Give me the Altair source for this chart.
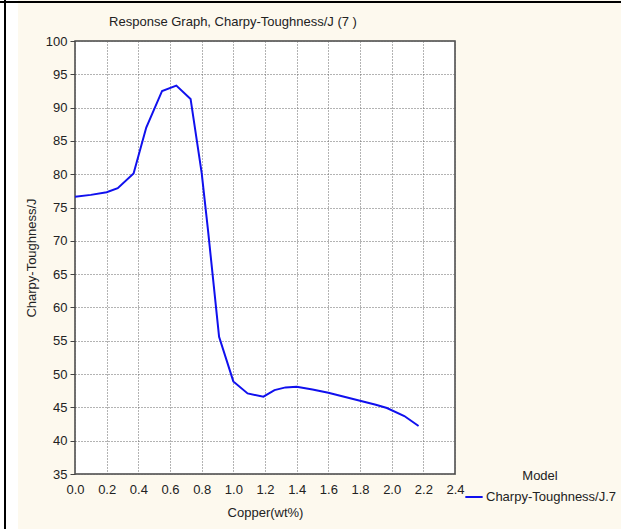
import altair as alt
import pandas as pd

copper = [0.00, 0.10, 0.20, 0.27, 0.37, 0.45, 0.55, 0.64, 0.73, 0.80, 0.84, 0.91, 1.00, 1.09, 1.19, 1.26, 1.33, 1.40, 1.50, 1.60, 1.70, 1.80, 1.90, 1.97, 2.08, 2.17]
toughness = [76.6, 76.9, 77.3, 77.9, 80.1, 87.0, 92.5, 93.3, 91.3, 80.2, 71.6, 55.6, 48.9, 47.1, 46.6, 47.6, 48.0, 48.1, 47.7, 47.2, 46.6, 46.0, 45.4, 44.9, 43.7, 42.2]
series = ["Charpy-Toughness/J.7"] * len(copper)
x_ticks = ["0.0", "0.2", "0.4", "0.6", "0.8", "1.0", "1.2", "1.4", "1.6", "1.8", "2.0", "2.2", "2.4"]
y_ticks = [35, 40, 45, 50, 55, 60, 65, 70, 75, 80, 85, 90, 95, 100]
title_text = ["Response Graph, Charpy-Toughness/J (7 )"]

df = pd.DataFrame({"copper": copper, "toughness": toughness, "series": series})
title_df = pd.DataFrame({"t": title_text})

FONT = "Liberation Sans"

line = alt.Chart(df).mark_line(strokeWidth=2, clip=True).encode(
    x=alt.X("copper:Q", title="Copper(wt%)",
            scale=alt.Scale(domain=[0, 2.4], nice=False),
            axis=alt.Axis(values=[float(v) for v in x_ticks], format=".1f",
                          tickSize=0, labelPadding=9, titlePadding=10,
                          labelFlush=False, labelOverlap=False,
                          labelFontSize=13, titleFontSize=13)),
    y=alt.Y("toughness:Q", title="Charpy-Toughness/J",
            scale=alt.Scale(domain=[35, 100], nice=False, zero=False),
            axis=alt.Axis(values=y_ticks, tickSize=5,
                          labelPadding=3, titlePadding=7,
                          labelFlush=False, labelOverlap=False,
                          labelFontSize=13, titleFontSize=13)),
    color=alt.Color("series:N", title="Model",
                    scale=alt.Scale(range=["#1010ee"]),
                    legend=alt.Legend(orient="none", legendX=389, legendY=429,
                                      symbolType="stroke", symbolStrokeWidth=2,
                                      symbolSize=300, titleAnchor="middle",
                                      titleFontSize=13, labelFontSize=13,
                                      titleFontWeight="normal", labelOffset=2,
                                      titlePadding=4)),
)

# chart title as a text mark (kept as real text)
title = alt.Chart(title_df).mark_text(
    font=FONT, fontSize=13, color="#222", align="center", baseline="middle"
).encode(text="t:N", x=alt.value(158), y=alt.value(-19))

# page frame decoration (white strip, black left and top lines)
frame_strip = alt.Chart(title_df).mark_rect(color="white").encode(
    x=alt.value(-75), x2=alt.value(-57), y=alt.value(-41), y2=alt.value(488))
frame_left = alt.Chart(title_df).mark_rule(color="black", strokeWidth=2).encode(
    x=alt.value(-70), y=alt.value(-41), y2=alt.value(488))
frame_top = alt.Chart(title_df).mark_rule(color="black", strokeWidth=2).encode(
    x=alt.value(-75), x2=alt.value(546), y=alt.value(-39))

chart = alt.layer(frame_strip, frame_left, frame_top, title, line).properties(
    width=380, height=433,
    background="#fdf9ee",
    padding={"left": 75, "top": 41, "right": 166, "bottom": 55},
    autosize=alt.AutoSizeParams(type="none"),
).configure_view(
    fill="white", stroke="#444", strokeWidth=1.5
).configure_axis(
    grid=True, gridColor="#666", gridDash=[1, 2], gridWidth=1,
    domain=False, labelFont=FONT, titleFont=FONT, labelColor="#222",
    titleColor="#222", titleFontWeight="normal", tickColor="#444"
).configure_legend(
    labelFont=FONT, titleFont=FONT, labelColor="#222", titleColor="#222"
)

chart.save("out.html", embed_options={"renderer": "svg", "actions": False})
